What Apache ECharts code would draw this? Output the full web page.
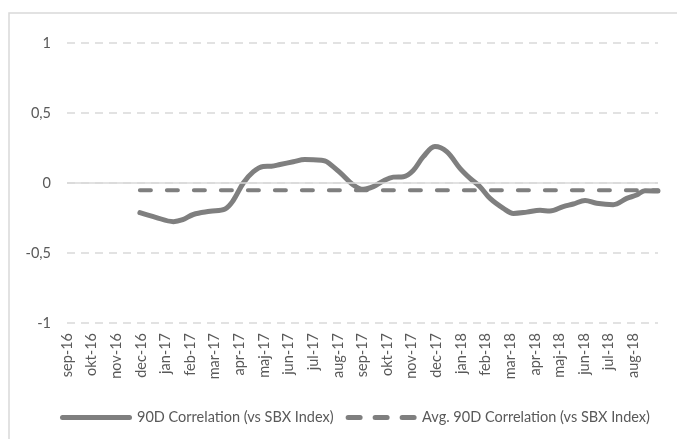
<!DOCTYPE html>
<html>
<head>
<meta charset="utf-8">
<script src="https://cdn.jsdelivr.net/npm/echarts@6/dist/echarts.min.js"></script>
<style>
html,body{margin:0;padding:0;background:#fff;}
#chart{width:677px;height:439px;}
</style>
</head>
<body>
<div id="chart"></div>
<script>
// Month tick labels (index 0 = sep-16)
var months = ['sep-16','okt-16','nov-16','dec-16','jan-17','feb-17','mar-17','apr-17','maj-17','jun-17','jul-17','aug-17',
              'sep-17','okt-17','nov-17','dec-17','jan-18','feb-18','mar-18','apr-18','maj-18','jun-18','jul-18','aug-18'];
var yTicks = [-1, -0.5, 0, 0.5, 1];

// 90D correlation: position in months since sep-16, and value
var corrX = [2.96, 3.6, 4.32, 4.7, 5.13, 5.81, 6.42, 6.75, 7.16, 7.57, 7.97, 8.3, 8.65, 9.19, 9.66, 10.34, 10.55, 11.09,
             11.63, 12.03, 12.44, 12.84, 13.25, 13.66, 14.06, 14.47, 14.94, 15.42, 15.96, 16.37, 16.77, 17.18, 17.72,
             18.13, 18.67, 19.21, 19.61, 20.15, 20.56, 21.04, 21.51, 22.18, 22.73, 23.13, 23.47, 24.0];
var corrY = [-0.212, -0.245, -0.276, -0.262, -0.225, -0.202, -0.185, -0.125, 0.0, 0.081, 0.118, 0.12, 0.132, 0.152, 0.168, 0.162, 0.152, 0.074,
             -0.014, -0.045, -0.026, 0.015, 0.042, 0.045, 0.09, 0.188, 0.26, 0.224, 0.105, 0.033, -0.026, -0.11, -0.181,
             -0.217, -0.208, -0.195, -0.2, -0.169, -0.15, -0.125, -0.145, -0.155, -0.11, -0.086, -0.055, -0.058];

// Average 90D correlation
var avgValue = -0.052;
var avgStartX = 2.96;
var avgEndX = 24.0;

var corrData = corrX.map(function (x, i) { return [x, corrY[i]]; });
var avgData = [[avgStartX, avgValue], [avgEndX, avgValue]];

var FONT = 'Lato';
var TXT = '#595959';
var GRAY = '#7f7f7f';
var GRID = '#d9d9d9';

var solidIcon = 'path://M2.5,0 L69.5,0 A2.5,2.5 0 0 1 69.5,5 L2.5,5 A2.5,2.5 0 0 1 2.5,0 Z';
var dashIcon = 'path://M2,0 L14,0 A2.5,2.5 0 0 1 14,5 L2,5 A2.5,2.5 0 0 1 2,0 Z ' +
               'M29,0 L41,0 A2.5,2.5 0 0 1 41,5 L29,5 A2.5,2.5 0 0 1 29,0 Z ' +
               'M56,0 L68,0 A2.5,2.5 0 0 1 68,5 L56,5 A2.5,2.5 0 0 1 56,0 Z';

var chart = echarts.init(document.getElementById('chart'));
chart.setOption({
  animation: false,
  backgroundColor: '#fff',
  graphic: [{
    type: 'rect',
    shape: { x: 9, y: 13, width: 720, height: 480 },
    style: { fill: 'none', stroke: GRID, lineWidth: 1.5 },
    silent: true, z: -1
  }],
  grid: { left: 67, right: 19, top: 43, bottom: 116 },
  legend: {
    left: 55, top: 405,
    itemWidth: 72, itemHeight: 5, itemGap: 12,
    textStyle: { color: TXT, fontSize: 14.5, fontFamily: FONT },
    data: [
      { name: '90D Correlation (vs SBX Index)', icon: solidIcon, itemStyle: { color: GRAY } },
      { name: 'Avg. 90D Correlation (vs SBX Index)', icon: dashIcon, itemStyle: { color: GRAY } }
    ]
  },
  xAxis: {
    type: 'value', min: 0, max: 24, interval: 1,
    axisLine: { show: false }, axisTick: { show: false }, splitLine: { show: false },
    axisLabel: {
      rotate: 90, margin: 10, color: TXT, fontSize: 14.5, fontFamily: FONT,
      showMaxLabel: false,
      formatter: function (v) { return months[v] || ''; }
    }
  },
  yAxis: {
    type: 'value', min: -1, max: 1, interval: 0.5,
    axisLine: { show: false }, axisTick: { show: false },
    axisLabel: {
      margin: 16, color: TXT, fontSize: 14.5, fontFamily: FONT,
      formatter: function (v) { return String(v).replace('.', ','); }
    },
    splitLine: { lineStyle: { color: GRID, width: 1.5, type: [8, 6] } }
  },
  series: [{
    name: '90D Correlation (vs SBX Index)',
    type: 'line', data: corrData, z: 3,
    showSymbol: false, symbol: 'none', smooth: 0.35,
    lineStyle: { color: GRAY, width: 5, cap: 'round', join: 'round' },
    itemStyle: { color: GRAY }
  }, {
    name: 'Avg. 90D Correlation (vs SBX Index)',
    type: 'line', data: avgData, z: 2,
    showSymbol: false, symbol: 'none',
    lineStyle: { color: GRAY, width: 4, type: [11, 16], cap: 'round' },
    itemStyle: { color: GRAY },
    markLine: {
      silent: true, symbol: 'none', label: { show: false },
      lineStyle: { color: GRID, width: 1.5, type: 'solid' },
      data: [{ yAxis: 0 }]
    }
  }]
});
</script>
</body>
</html>
